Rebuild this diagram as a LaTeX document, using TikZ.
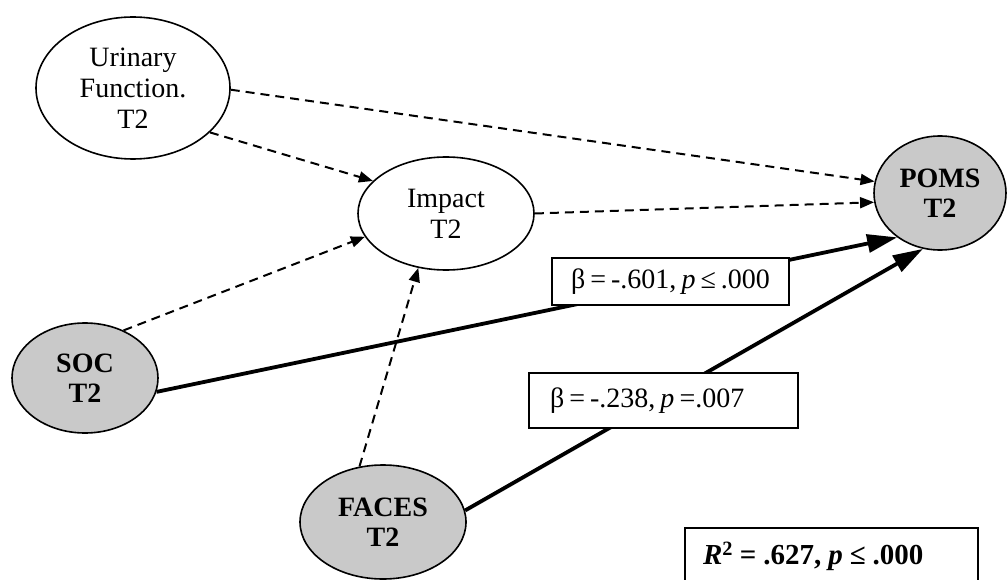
\documentclass[tikz,border=0pt]{standalone}
\usepackage{fontspec}
\setmainfont{Liberation Serif}
\usetikzlibrary{shapes.geometric,arrows.meta}
\newcommand{\tsp}{\spaceskip=0.18em plus 0.05em\relax}
\newcommand{\rsp}{\spaceskip=0.24em plus 0.05em\relax}
\begin{document}
\begin{tikzpicture}[x=1pt,y=-1pt,
  lat/.style={ellipse,draw,line width=1.6pt,inner sep=0pt,align=center,
    font=\fontsize{28}{31}\selectfont},
  obs/.style={lat,fill=gray!42,font=\fontsize{28}{30}\selectfont\bfseries},
  dpath/.style={line width=2pt,dash pattern=on 9pt off 6pt,
    -{Triangle[length=14pt,width=11pt]}},
  spath/.style={line width=3.8pt,-{Triangle[length=30pt,width=18pt]}},
  lbox/.style={draw,line width=1.5pt,fill=white,inner sep=0pt,
    font=\fontsize{28}{30}\selectfont}
]
\useasboundingbox (0,0) rectangle (1008,580);

\node[lat,minimum width=194pt,minimum height=142pt] (uri) at (133,88) {Urinary\\Function.\\T2};
\node[lat,minimum width=176pt,minimum height=113pt] (imp) at (446,213.5) {Impact\\T2};
\node[obs,minimum width=132pt,minimum height=114pt] (poms) at (940,193) {POMS\\T2};
\node[obs,minimum width=146pt,minimum height=110pt] (soc) at (85,378) {SOC\\T2};
\node[obs,minimum width=166pt,minimum height=114pt] (faces) at (383,522) {FACES\\T2};

\draw[dpath] (uri.-1) -- (poms.170);
\draw[dpath] (uri.-30) -- (imp.156);
\draw[dpath] (imp.east) -- (poms.188);
\draw[dpath] (soc.51) -- (imp.196);
\draw[dpath] (faces.113) -- (imp.243);

\draw[spath] (soc.-11) -- (poms.226);
\draw[spath] (faces.8) -- (poms.253);

\node[lbox,minimum width=237pt,minimum height=47pt] (b1) at (670.5,281.5)
  {\tsp β = -.601, \textit{p} ≤ .000};
\node[lbox,minimum height=55pt,text width=227pt,inner xsep=21pt,align=left] (b2) at (663.5,400.5)
  {\tsp β = -.238, \textit{p} =.007};
\node[lbox,minimum height=56pt,text width=257pt,inner xsep=18pt,align=left,
  font=\fontsize{29}{30}\selectfont\bfseries] (b3) at (831.5,556)
  {\rsp\textit{R}\textsuperscript{2} = .627, \textit{p} ≤ .000};
\end{tikzpicture}
\end{document}
